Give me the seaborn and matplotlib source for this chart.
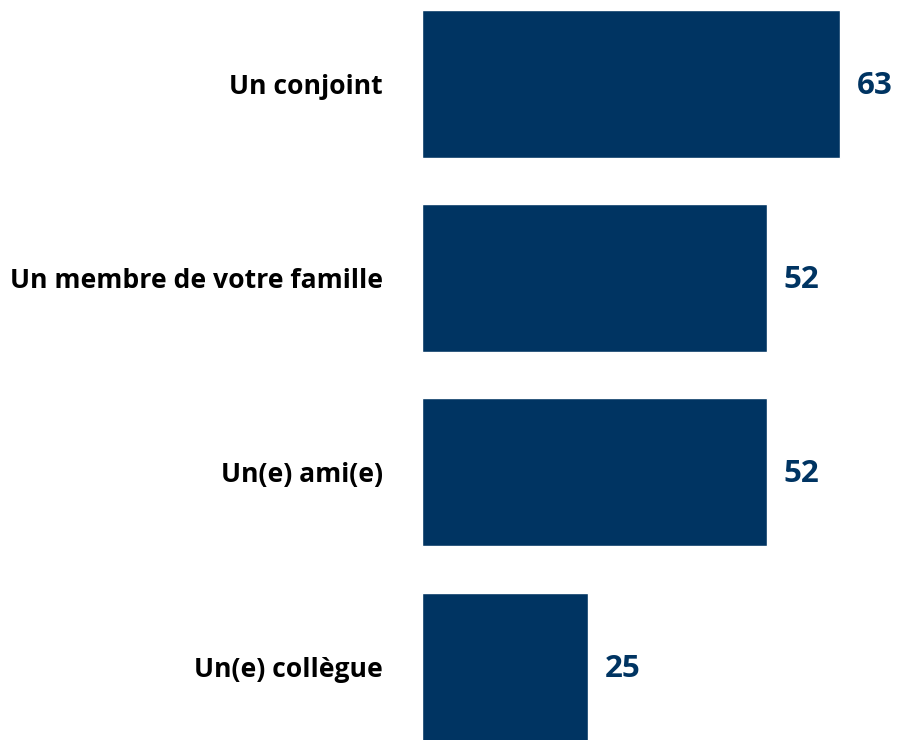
import matplotlib; matplotlib.use('Agg')
import matplotlib.pyplot as plt
import seaborn as sns
import pandas as pd

categories = ['Un conjoint', 'Un membre de votre famille', 'Un(e) ami(e)', 'Un(e) collègue']
values = [63, 52, 52, 25]

df = pd.DataFrame({'cat': categories, 'val': values})

sns.set_style('white')
plt.rcParams['font.family'] = ['Open Sans', 'DejaVu Sans']

fig = plt.figure(figsize=(8.97, 7.4), dpi=100)
ax = fig.add_axes([422 / 897, 0, 475 / 897, 1])
sns.barplot(data=df, x='val', y='cat', orient='h', color='#003462',
            saturation=1, width=0.762, ax=ax)

ax.set_xlim(0, 475 / 6.635)
ax.set_ylim(3.378, -0.4326)
sns.despine(ax=ax, left=True, bottom=True)
ax.set_xticks([])
ax.set_xlabel('')
ax.set_ylabel('')
ax.tick_params(axis='y', length=0, pad=28)
for lab in ax.get_yticklabels():
    lab.set_fontsize(19.1)
    lab.set_fontweight('bold')
    lab.set_color('black')

for i, v in enumerate(values):
    ax.text(v + 2.5, i + 0.01, str(v), va='center', ha='left',
            fontsize=22.5, fontweight='bold', color='#003462')

fig.savefig('out.png', dpi=100)
